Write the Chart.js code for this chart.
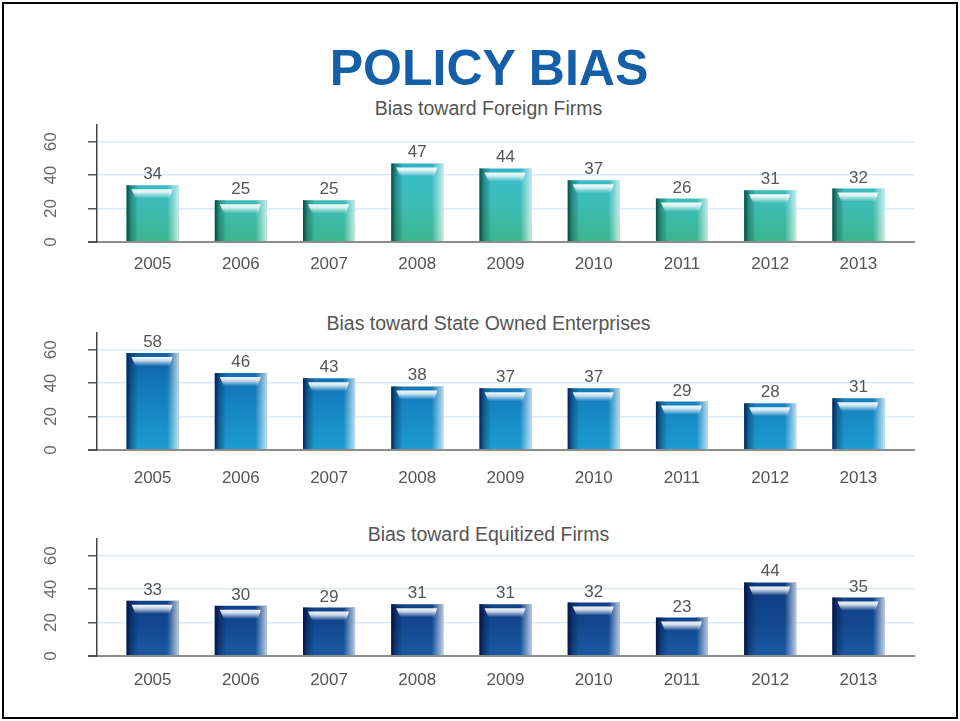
<!DOCTYPE html>
<html>
<head>
<meta charset="utf-8">
<script src="https://cdn.jsdelivr.net/npm/chart.js@4.4.1/dist/chart.umd.min.js"></script>
<style>
  html, body { margin: 0; padding: 0; background: #fff; }
  body { width: 960px; height: 721px; position: relative; overflow: hidden; font-family: "Liberation Sans", Arial, sans-serif; }
  #frame { position: absolute; left: 2px; top: 2px; width: 952px; height: 713px; border: 2px solid #000; }
  #title { position: absolute; left: 0; width: 978px; top: 43px; line-height: 50px; text-align: center; font-weight: bold; font-size: 50px; color: #155fa8; }
  .sub { position: absolute; left: 0; width: 977px; line-height: 22px; text-align: center; font-size: 19.5px; color: #555; }
  canvas { position: absolute; left: 0; }
</style>
</head>
<body>
<div id="frame"></div>
<div id="title">POLICY BIAS</div>
<div class="sub" style="top:97px">Bias toward Foreign Firms</div>
<div class="sub" style="top:312px">Bias toward State Owned Enterprises</div>
<div class="sub" style="top:523px">Bias toward Equitized Firms</div>
<canvas id="c1" width="960" height="185" style="top:100px"></canvas>
<canvas id="c2" width="960" height="190" style="top:310px"></canvas>
<canvas id="c3" width="960" height="200" style="top:515px"></canvas>
<script>
const years = [2005, 2006, 2007, 2008, 2009, 2010, 2011, 2012, 2013];
const yearLabels = ["2005", "2006", "2007", "2008", "2009", "2010", "2011", "2012", "2013"];
const foreignFirms = [34, 25, 25, 47, 44, 37, 26, 31, 32];
const stateOwned = [58, 46, 43, 38, 37, 37, 29, 28, 31];
const equitized = [33, 30, 29, 31, 31, 32, 23, 44, 35];

const FONT = '"Liberation Sans", Arial, sans-serif';

// shading on top of each bar: dark left edge, light right edge, white gloss near the top
const gloss = {
  id: "gloss",
  afterDatasetsDraw(chart) {
    const ctx = chart.ctx;
    const edge = chart.options.plugins.gloss.edge;
    chart.getDatasetMeta(0).data.forEach(bar => {
      const { x, y, base, width } = bar.getProps(["x", "y", "base", "width"], true);
      const l = x - width / 2, r = x + width / 2, h = base - y;
      ctx.save();
      let g = ctx.createLinearGradient(l, 0, r, 0);
      g.addColorStop(0, edge);
      g.addColorStop(0.1, edge.replace(/[\d.]+\)$/, "0.35)"));
      g.addColorStop(0.22, "rgba(0,0,0,0)");
      g.addColorStop(0.78, "rgba(255,255,255,0)");
      g.addColorStop(1, "rgba(255,255,255,0.7)");
      ctx.fillStyle = g;
      ctx.fillRect(l, y, width, h);
      const hy = y + 4, hh = Math.min(9, h - 5);
      if (hh > 2) {
        g = ctx.createLinearGradient(0, hy, 0, hy + hh);
        g.addColorStop(0, "rgba(255,255,255,0.95)");
        g.addColorStop(0.35, "rgba(255,255,255,0.8)");
        g.addColorStop(1, "rgba(255,255,255,0)");
        ctx.fillStyle = g;
        ctx.beginPath();
        ctx.moveTo(l + 5, hy);
        ctx.lineTo(r - 6, hy);
        ctx.lineTo(r - 9, hy + hh);
        ctx.lineTo(l + 9, hy + hh);
        ctx.closePath();
        ctx.fill();
      }
      ctx.restore();
    });
  }
};

const valueLabels = {
  id: "valueLabels",
  afterDatasetsDraw(chart) {
    const ctx = chart.ctx;
    const ds = chart.data.datasets[0];
    ctx.save();
    ctx.font = "17px " + FONT;
    ctx.fillStyle = "#555";
    ctx.textAlign = "center";
    ctx.textBaseline = "alphabetic";
    chart.getDatasetMeta(0).data.forEach((bar, i) => {
      ctx.fillText(String(ds.data[i].y), bar.x, bar.y - 6);
    });
    ctx.restore();
  }
};

function makeChart(id, values, stops, edge, cfg) {
  new Chart(document.getElementById(id), {
    type: "bar",
    data: {
      datasets: [{
        data: years.map((yr, i) => ({ x: yr, y: values[i] })),
        backgroundColor: c => {
          const a = c.chart.chartArea;
          if (!a) return stops[0][1];
          const g = c.chart.ctx.createLinearGradient(0, a.bottom, 0, a.top);
          stops.forEach(s => g.addColorStop(s[0], s[1]));
          return g;
        },
        borderWidth: 0,
        barPercentage: 0.59,
        categoryPercentage: 1
      }]
    },
    options: {
      responsive: false,
      animation: false,
      layout: { padding: { top: cfg.top, right: 46, left: 0, bottom: 0 } },
      plugins: { legend: { display: false }, tooltip: { enabled: false }, gloss: { edge } },
      scales: {
        x: {
          type: "linear",
          offset: false,
          min: 2004.37,
          max: 2013.63,
          grid: { display: false, drawTicks: false, offset: false },
          border: { display: true, color: "#8c8c8c", width: 2 },
          ticks: {
            stepSize: 1,
            includeBounds: false,
            autoSkip: false,
            maxRotation: 0,
            padding: cfg.xpad,
            color: "#555",
            font: { family: FONT, size: 17 },
            callback: v => yearLabels[years.indexOf(v)] ?? ""
          },
          afterFit: s => { s.height = cfg.xh; }
        },
        y: {
          min: 0,
          max: 70,
          grid: {
            color: c => (c.tick && c.tick.value === 0) ? "#8c8c8c" : "#dcebf7",
            lineWidth: c => (c.tick && c.tick.value === 0) ? 2 : 1.5,
            tickColor: "#555",
            tickLength: 9
          },
          border: { color: "#444", width: 1.5 },
          ticks: {
            stepSize: 20,
            includeBounds: false,
            minRotation: 90,
            maxRotation: 90,
            crossAlign: "center",
            padding: 27,
            color: "#666",
            font: { family: FONT, size: 17 }
          },
          afterFit: s => { s.width = 97; s.paddingTop = 0; s.paddingBottom = 0; }
        }
      }
    },
    plugins: [gloss, valueLabels]
  });
}

makeChart("c1", foreignFirms,
  [[0, "#3cb58d"], [0.3, "#3dbcb4"], [0.55, "#38bcc6"], [0.8, "#22a2bf"], [1, "#1a8fb0"]],
  "rgba(6,70,60,0.95)", { top: 25, xh: 43, xpad: 12 });
makeChart("c2", stateOwned,
  [[0, "#1c9ccf"], [0.45, "#1580be"], [0.8, "#0e62a6"], [1, "#0a4f92"]],
  "rgba(5,30,80,0.95)", { top: 23, xh: 50, xpad: 18 });
makeChart("c3", equitized,
  [[0, "#1a5aa2"], [0.3, "#11468e"], [0.7, "#0e3b80"], [1, "#0b3372"]],
  "rgba(3,18,60,0.95)", { top: 24, xh: 59, xpad: 14 });
</script>
</body>
</html>
